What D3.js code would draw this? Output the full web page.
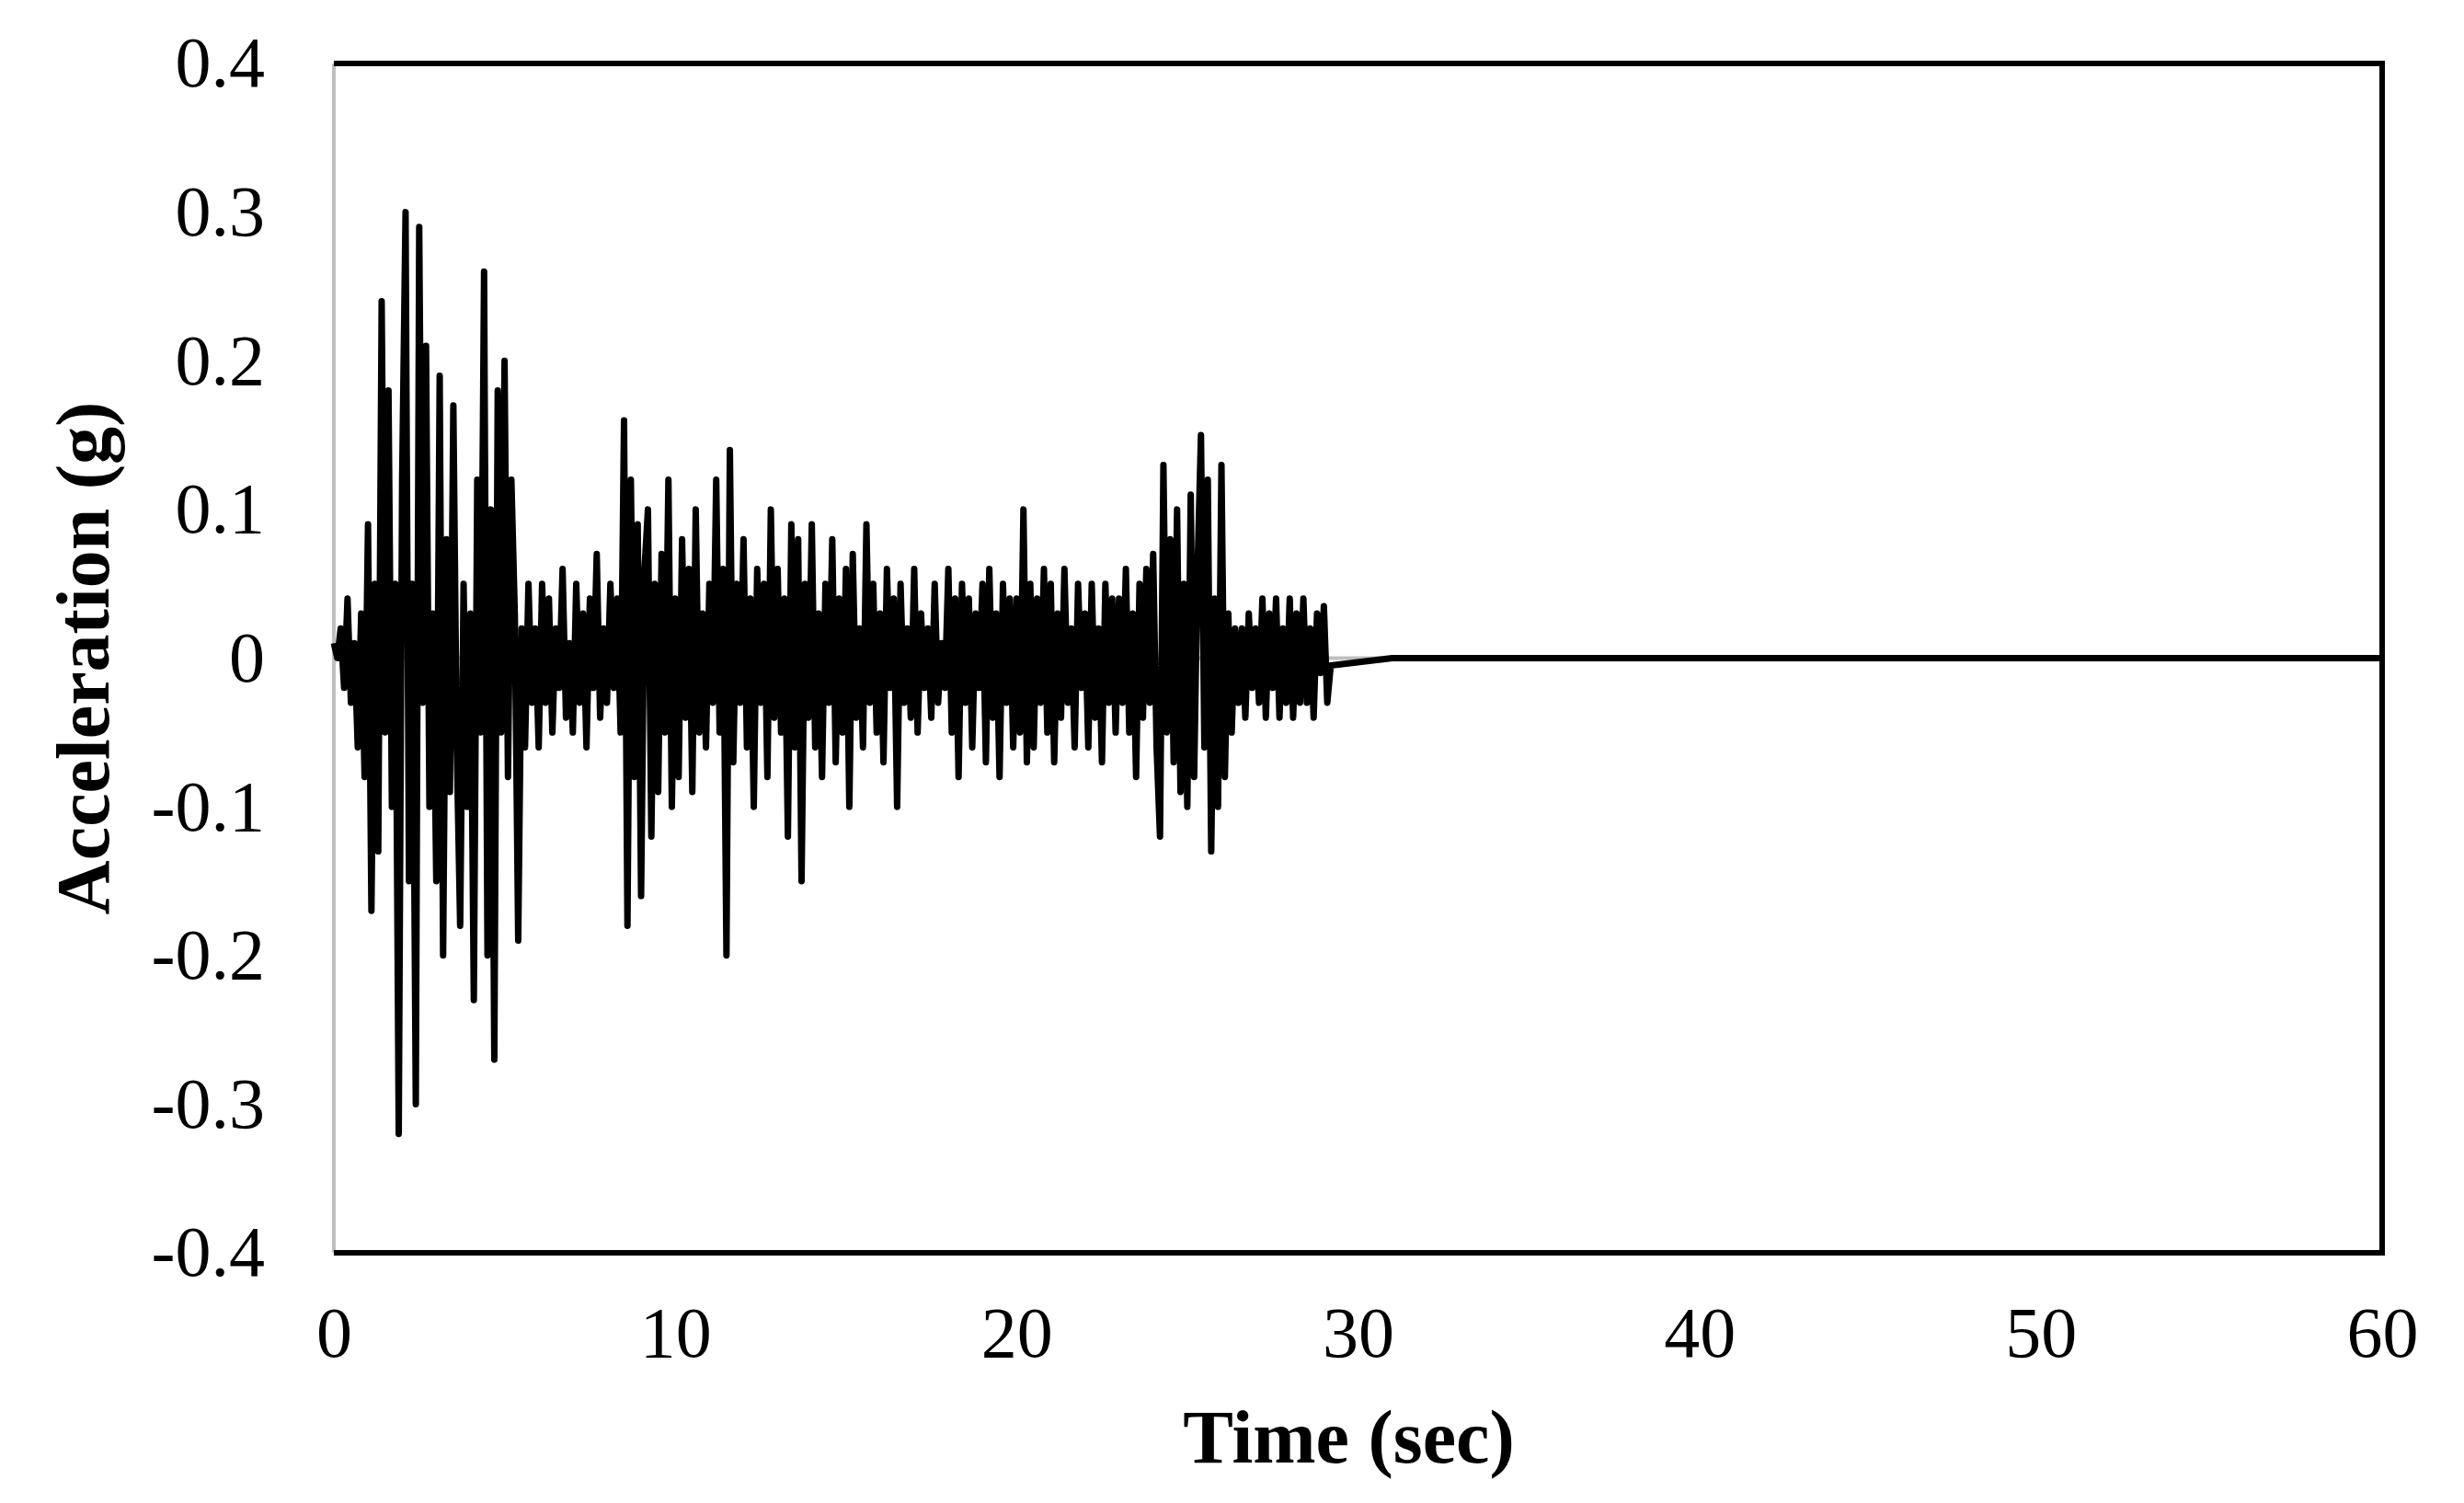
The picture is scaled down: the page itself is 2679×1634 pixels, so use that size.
<!DOCTYPE html>
<html><head><meta charset="utf-8">
<script src="https://cdn.jsdelivr.net/npm/d3@7"></script>
<style>body{margin:0;background:#fff}</style></head>
<body><svg id="c" width="2679" height="1634"></svg>
<script>
const dt = 0.1;
const accel = [
0.01,0.0,0.02,-0.02,0.04,-0.03,0.01,-0.06,0.03,-0.08,
0.09,-0.17,0.05,-0.13,0.24,-0.05,0.18,-0.1,0.05,-0.32,
0.12,0.30,-0.15,0.05,-0.30,0.29,-0.03,0.21,-0.1,0.03,
-0.15,0.19,-0.2,0.08,-0.09,0.17,-0.06,-0.18,0.05,-0.1,
0.03,-0.23,0.12,-0.05,0.26,-0.2,0.1,-0.27,0.18,-0.05,
0.2,-0.08,0.12,0.03,-0.19,0.02,-0.06,0.05,-0.03,0.02,
-0.06,0.05,-0.03,0.04,-0.05,0.02,-0.02,0.06,-0.04,0.01,
-0.05,0.05,-0.03,0.03,-0.06,0.04,-0.02,0.07,-0.04,0.02,
-0.03,0.05,-0.02,0.04,-0.05,0.16,-0.18,0.12,-0.08,0.09,
-0.16,0.06,0.10,-0.12,0.05,-0.09,0.07,-0.05,0.12,-0.1,
0.04,-0.08,0.08,-0.04,0.06,-0.09,0.1,-0.05,0.03,-0.06,
0.05,-0.03,0.12,-0.05,0.06,-0.20,0.14,-0.07,0.05,-0.03,
0.08,-0.06,0.04,-0.1,0.06,-0.03,0.05,-0.08,0.10,-0.04,
0.06,-0.05,0.04,-0.12,0.09,-0.06,0.08,-0.15,0.05,-0.04,
0.09,-0.06,0.03,-0.08,0.05,-0.03,0.08,-0.07,0.04,-0.05,
0.06,-0.1,0.07,-0.04,0.02,-0.06,0.09,-0.03,0.05,-0.05,
0.03,-0.07,0.06,-0.02,0.04,-0.1,0.05,-0.03,0.02,-0.04,
0.06,-0.05,0.03,-0.02,0.02,-0.04,0.05,-0.03,0.01,-0.02,
0.06,-0.05,0.04,-0.08,0.05,-0.03,0.04,-0.06,0.03,-0.02,
0.05,-0.07,0.06,-0.04,0.03,-0.08,0.05,-0.03,0.04,-0.06,
0.04,-0.05,0.1,-0.07,0.05,-0.06,0.04,-0.03,0.06,-0.05,
0.05,-0.07,0.03,-0.04,0.06,-0.03,0.02,-0.06,0.05,-0.02,
0.03,-0.06,0.05,-0.04,0.02,-0.07,0.05,-0.03,0.04,-0.05,
0.04,-0.03,0.06,-0.05,0.03,-0.08,0.05,-0.04,0.06,-0.03,
0.07,-0.06,-0.12,0.13,-0.05,0.08,-0.07,0.1,-0.09,0.05,
-0.1,0.11,-0.08,0.06,0.15,-0.06,0.12,-0.13,0.04,-0.1,
0.13,-0.08,0.03,-0.05,0.02,-0.03,0.02,-0.04,0.03,-0.02,
0.02,-0.03,0.04,-0.04,0.03,-0.02,0.04,-0.04,0.02,-0.03,
0.04,-0.04,0.03,-0.03,0.04,-0.03,0.02,-0.04,0.03,-0.01,
0.035,-0.03,-0.005
];
const tailTimes = [31, 60];
const tailValues = [0, 0];
const xTicks = [0,10,20,30,40,50,60];
const yTicks = [-0.4,-0.3,-0.2,-0.1,0,0.1,0.2,0.3,0.4];

const data = accel.map((v,i)=>({t:i*dt,a:v}))
  .concat(tailTimes.map((t,i)=>({t:t,a:tailValues[i]})));

const L=363,R=2590,T=69,B=1362;
const svg=d3.select("#c");
const x=d3.scaleLinear().domain([0,60]).range([L,R]);
const y=d3.scaleLinear().domain([-0.4,0.4]).range([B,T]);
const font="'Liberation Serif','Times New Roman',serif";

svg.append("line").attr("x1",L).attr("x2",R).attr("y1",y(0)).attr("y2",y(0)).attr("stroke","#bfbfbf").attr("stroke-width",4);
svg.append("line").attr("x1",L).attr("x2",L).attr("y1",T).attr("y2",B).attr("stroke","#bfbfbf").attr("stroke-width",4);

svg.append("path").datum(data)
  .attr("d",d3.line().x(d=>x(d.t)).y(d=>y(d.a)))
  .attr("fill","none").attr("stroke","#000").attr("stroke-width",7).attr("stroke-linejoin","round");

svg.append("path").attr("d",`M${L},${T}H${R}V${B}H${L}`).attr("fill","none").attr("stroke","#000").attr("stroke-width",6);

const xa=svg.append("g").attr("transform",`translate(0,${B})`)
  .call(d3.axisBottom(x).tickValues(xTicks).tickSize(0).tickPadding(58).tickFormat(d3.format("d")));
xa.select(".domain").remove();
xa.selectAll("text").attr("font-family",font).attr("font-size",78).attr("fill","#000");

const ya=svg.append("g").attr("transform",`translate(${L},0)`)
  .call(d3.axisLeft(y).tickValues(yTicks).tickSize(0).tickPadding(75).tickFormat(d=>d===0?"0":(d<0?"-":"")+Math.abs(d).toFixed(1)));
ya.select(".domain").remove();
ya.selectAll("text").attr("font-family",font).attr("font-size",78).attr("fill","#000");

svg.append("text").attr("x",(L+R)/2-10).attr("y",1590).attr("text-anchor","middle")
  .attr("font-family",font).attr("font-weight","bold").attr("font-size",82).text("Time (sec)");
svg.append("text").attr("transform",`translate(118,${(T+B)/2}) rotate(-90)`).attr("text-anchor","middle")
  .attr("font-family",font).attr("font-weight","bold").attr("font-size",82).text("Acceleration (g)");
</script></body></html>
